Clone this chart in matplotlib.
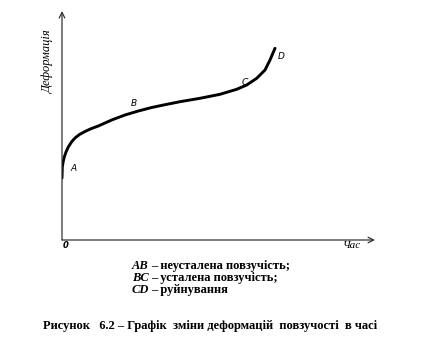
import matplotlib
matplotlib.use("Agg")
import matplotlib.pyplot as plt

# data (time, deformation) in arbitrary units
time = [0, 0.3, 1.2, 2.3, 4.0, 6.3, 9.5, 13, 17.5, 23, 29, 36.3, 49.7, 63, 76.3,
        89.7, 103, 118, 138, 158, 174.7, 184.7, 194.7, 203, 208, 213]
deform = [62, 73, 78.5, 83, 88, 93, 98, 102, 105.5, 108.5, 111.3, 114, 120, 125,
          129, 132.5, 135.3, 138.3, 141.7, 145.7, 150.7, 155, 161.7, 170, 180, 191.7]
point_labels = ["A", "B", "C", "D"]
point_pos = [(11.3, 71.7), (72.3, 136.7), (183, 157.3), (218.7, 183.3)]
legend_keys = ["AB", "BC", "CD"]
legend_texts = ["– неусталена повзучість;", "– усталена повзучість;", "– руйнування"]
caption = "Рисунок   6.2 – Графік  зміни деформацій  повзучості  в часі"

W, H = 425, 358
fig = plt.figure(figsize=(W / 100, H / 100), dpi=100)
ox, oy = 62, 240
xend, ytop = 375, 11
ax = fig.add_axes([ox / W, 1 - oy / H, (xend - ox) / W, (oy - ytop) / H])
ax.set_xlim(0, xend - ox)
ax.set_ylim(0, oy - ytop)
ax.axis("off")

ax.plot(time, deform, color="black", lw=2.1, solid_capstyle="round",
        solid_joinstyle="round")

# axes with arrows
ax.annotate("", xy=(xend - ox, 0), xytext=(0, 0),
            arrowprops=dict(arrowstyle="->", color="#333333", lw=0.9,
                            shrinkA=0, shrinkB=0))
ax.annotate("", xy=(0, oy - ytop), xytext=(0, 0),
            arrowprops=dict(arrowstyle="->", color="#333333", lw=0.9,
                            shrinkA=0, shrinkB=0))

for lab, (x, y) in zip(point_labels, point_pos):
    ax.text(x, y, lab, fontsize=6.5, style="italic", family="DejaVu Sans",
            ha="center", va="center")

ax.text(4, -6, "0", fontsize=6, style="italic", fontweight="bold",
        family="DejaVu Sans", ha="center", va="center")
fig.text(352 / W, 1 - 246 / H, "Час", fontsize=8, style="italic",
         family="Liberation Serif", ha="center", va="center")
fig.text(48 / W, 1 - 61 / H, "Деформація", fontsize=9, style="italic",
         family="Liberation Serif", rotation=90, ha="center", va="center")

ys = [266, 278, 290]
for key, txt, y in zip(legend_keys, legend_texts, ys):
    fig.text(132 / W, 1 - y / H, key, fontsize=9, style="italic",
             fontweight="bold", family="Liberation Serif", ha="left", va="center")
    fig.text(151 / W, 1 - y / H, txt, fontsize=9, fontweight="bold",
             family="Liberation Serif", ha="left", va="center")

fig.text(210.5 / W, 1 - 326 / H, caption, fontsize=9, fontweight="bold",
         family="Liberation Serif", ha="center", va="center")

fig.savefig("out.png", dpi=100, facecolor="white")
